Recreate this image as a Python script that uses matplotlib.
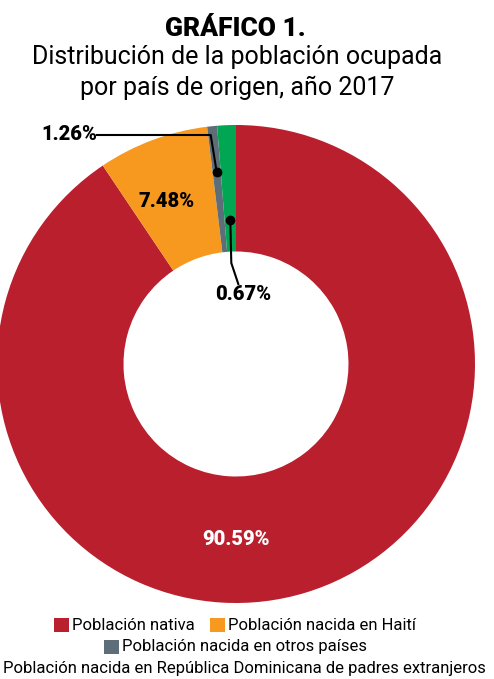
import numpy as np
import matplotlib.pyplot as plt
from matplotlib.patches import Rectangle

# Datos
categorias = ["Población nativa",
              "Población nacida en Haití",
              "Población nacida en otros países",
              "Población nacida en República Dominicana de padres extranjeros"]
# anchos de las porciones tal como aparecen dibujadas
porcentajes = [90.59, 7.48, 0.67, 1.26]
# etiquetas impresas en el grafico
etiquetas = ["90.59%", "7.48%", "1.26%", "0.67%"]
colores = ["#BA1F2E", "#F7991F", "#5E6E79", "#00A651"]
filas_leyenda = [[0, 1], [2], [3]]

plt.rcParams['font.family'] = ['Roboto', 'DejaVu Sans']

W, H = 494, 679
fig = plt.figure(figsize=(W / 100, H / 100), dpi=100)
ax = fig.add_axes([0, 0, 1, 1])

# centro y radios del anillo (en pixeles)
cx, cy = 236, H - 364
R, r_in = 239, 112.5
rm = (R + r_in) / 2

wedges, _ = ax.pie(porcentajes, colors=colores, startangle=90, counterclock=False,
                   radius=R, center=(cx, cy),
                   wedgeprops=dict(width=R - r_in, linewidth=0))
ax.set_xlim(0, W)
ax.set_ylim(0, H)
ax.set_aspect('equal')
ax.axis('off')


def punto(ang, r):
    a = np.deg2rad(ang)
    return cx + r * np.cos(a), cy + r * np.sin(a)


medios = [(w.theta1 + w.theta2) / 2 for w in wedges]

# etiqueta grande y la de Haiti
ax.text(cx, cy - rm, etiquetas[0], color="white", fontsize=14.5, fontweight="black",
        ha="center", va="center")
x, y = punto(medios[1] + 2, rm)
ax.text(x - 2, y, etiquetas[1], color="black", fontsize=14.5, fontweight="black",
        ha="center", va="center")

# etiqueta con linea: otros paises
x1, y1 = punto(medios[2], 193)
codo = (x1 - 6, H - 135)
ax.plot([x1, codo[0], 97], [y1, codo[1], codo[1]], color="black", lw=1.5)
ax.plot(x1, y1, "o", color="black", ms=6)
ax.text(97, codo[1], etiquetas[2], color="black", fontsize=14.5, fontweight="black",
        ha="right", va="center")

# etiqueta con linea: padres extranjeros
x2, y2 = punto(medios[3], 144)
ax.plot([x2, x2 + 1, x2 + 8], [y2, H - 263, H - 284], color="black", lw=1.5)
ax.plot(x2, y2, "o", color="black", ms=6)
ax.text(x2 + 13, H - 294, etiquetas[3], color="black", fontsize=14.5, fontweight="black",
        ha="center", va="center")

# titulos
fig.text(235 / W, 1 - 36 / H, "GRÁFICO 1.", fontsize=19, fontweight="black",
         ha="center", va="baseline")
fig.text(237 / W, 1 - 64 / H, "Distribución de la población ocupada", fontsize=18,
         ha="center", va="baseline")
fig.text(237 / W, 1 - 95 / H, "por país de origen, año 2017", fontsize=18,
         ha="center", va="baseline")

# leyenda manual centrada por filas
fig.canvas.draw()
rend = fig.canvas.get_renderer()
lado_w, lado_h, sep, hueco = 15, 14, 3, 16
ys = [625, 647, 669]
for fila, yc in zip(filas_leyenda, ys):
    textos = []
    anchos = []
    for i in fila:
        t = ax.text(0, H - yc, categorias[i], fontsize=12, ha="left", va="center")
        textos.append(t)
        anchos.append(t.get_window_extent(rend).width)
    total = sum(lado_w + sep + a for a in anchos) + hueco * (len(fila) - 1)
    x0 = 235 - total / 2
    for i, t, a in zip(fila, textos, anchos):
        ax.add_patch(Rectangle((x0, H - yc - lado_h / 2), lado_w, lado_h,
                               color=colores[i], lw=0, clip_on=False))
        t.set_x(x0 + lado_w + sep)
        x0 += lado_w + sep + a + hueco

fig.savefig("out.png", dpi=100)
